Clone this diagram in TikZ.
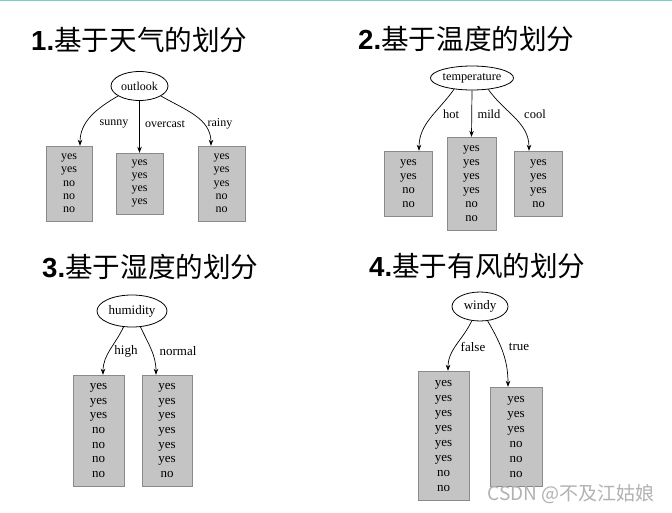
\documentclass[tikz,border=0pt]{standalone}
\usepackage{fontspec}
\setmainfont{Liberation Serif}
\newfontfamily\cjk{Noto Sans CJK SC}
\newfontfamily\numfont{Liberation Sans}
\usepackage{tikz}
\usetikzlibrary{arrows,arrows.meta,shapes,positioning}
\definecolor{boxgray}{HTML}{C4C4C4}
\definecolor{boxline}{HTML}{8A8A8A}
\definecolor{topline}{HTML}{72D0D0}

\begin{document}
\begin{tikzpicture}[x=1pt,y=1pt,
  title/.style={anchor=west, inner sep=0pt, font=\fontsize{27.6}{28}\selectfont},
  attr/.style={draw, ellipse, inner sep=0pt, line width=0.8pt},
  leaf/.style={draw=boxline, fill=boxgray, inner sep=0pt, align=center},
  branch/.style={inner sep=0pt},
  edge/.style={-{Stealth[length=6pt,width=4.5pt]}, line width=0.7pt}]
  \useasboundingbox (0,0) rectangle (672,-513);
  \fill[white] (0,0) rectangle (672,-513);
  \draw[topline, line width=1.5pt] (0,-0.5) -- (672,-0.5);

  % 1. outlook
  \node[title] (t1) at (31,-40) {{\numfont\bfseries 1.}\cjk 基于天气的划分};
  \node[attr, minimum width=57, minimum height=29, font=\fontsize{12}{13}\selectfont] (outlook) at (139.5,-86) {outlook};
  \node[leaf, minimum width=46, minimum height=75, font=\fontsize{12}{13.3}\selectfont] (sunny) at (69,-183.5) {yes\\yes\\no\\no\\no};
  \node[leaf, minimum width=47, minimum height=61, font=\fontsize{12}{13.3}\selectfont] (overcast) at (139.5,-183.5) {yes\\yes\\yes\\yes};
  \node[leaf, minimum width=47, minimum height=75, font=\fontsize{12}{13.3}\selectfont] (rainy) at (221.5,-183.5) {yes\\yes\\yes\\no\\no};
  \draw[edge] (outlook.-155) to[out=-150, in=90] ([xshift=11pt]sunny.north);
  \draw[edge] (outlook.south) -- (overcast.north);
  \draw[edge] (outlook.-25) to[out=-30, in=90] ([xshift=-10.5pt]rainy.north);
  \node[branch, font=\fontsize{12}{13}\selectfont] (l-sunny) at (114,-124) {sunny};
  \node[branch, font=\fontsize{12}{13}\selectfont] (l-overcast) at (165,-124) {overcast};
  \node[branch, font=\fontsize{12}{13}\selectfont] (l-rainy) at (220,-124) {rainy};

  % 2. temperature
  \node[title] (t2) at (358,-39) {{\numfont\bfseries 2.}\cjk 基于温度的划分};
  \node[attr, minimum width=80, minimum height=24, font=\fontsize{12.3}{13}\selectfont] (temperature) at (472,-78) {temperature};
  \node[leaf, minimum width=48, minimum height=65, font=\fontsize{12.5}{14}\selectfont] (hot) at (408.5,-183.5) {yes\\yes\\no\\no};
  \node[leaf, minimum width=49, minimum height=93, font=\fontsize{12.5}{14}\selectfont] (mild) at (471.5,-183.5) {yes\\yes\\yes\\yes\\no\\no};
  \node[leaf, minimum width=48, minimum height=65, font=\fontsize{12.5}{14}\selectfont] (cool) at (538.5,-183.5) {yes\\yes\\yes\\no};
  \draw[edge] (temperature.-148) to[out=-125, in=90] ([xshift=10.5pt]hot.north);
  \draw[edge] (temperature.south) -- (mild.north);
  \draw[edge] (temperature.-35) to[out=-55, in=90] ([xshift=-9.5pt]cool.north);
  \node[branch, font=\fontsize{12.5}{13}\selectfont] (l-hot) at (451,-114) {hot};
  \node[branch, font=\fontsize{12.5}{13}\selectfont] (l-mild) at (489,-114) {mild};
  \node[branch, font=\fontsize{12.5}{13}\selectfont] (l-cool) at (535,-114) {cool};

  % 3. humidity
  \node[title] (t3) at (42,-267) {{\numfont\bfseries 3.}\cjk 基于湿度的划分};
  \node[attr, minimum width=70, minimum height=32, font=\fontsize{13}{13}\selectfont] (humidity) at (132,-311) {humidity};
  \node[leaf, minimum width=51, minimum height=111, font=\fontsize{13}{14.7}\selectfont] (high) at (98.5,-430.5) {yes\\yes\\yes\\no\\no\\no\\no};
  \node[leaf, minimum width=50, minimum height=111, font=\fontsize{13}{14.7}\selectfont] (normal) at (167,-430.5) {yes\\yes\\yes\\yes\\yes\\yes\\no};
  \draw[edge] (humidity.-118) to[out=-115, in=90] ([xshift=4.5pt]high.north);
  \draw[edge] (humidity.-62) to[out=-65, in=90] ([xshift=-11pt]normal.north);
  \node[branch, font=\fontsize{13}{13}\selectfont] (l-high) at (126,-351) {high};
  \node[branch, font=\fontsize{13}{13}\selectfont] (l-normal) at (178,-351) {normal};

  % 4. windy
  \node[title] (t4) at (369,-266) {{\numfont\bfseries 4.}\cjk 基于有风的划分};
  \node[attr, minimum width=56, minimum height=29, font=\fontsize{13}{13}\selectfont] (windy) at (480,-306.5) {windy};
  \node[leaf, minimum width=51, minimum height=129, font=\fontsize{13}{15}\selectfont] (false) at (443.5,-435.5) {yes\\yes\\yes\\yes\\yes\\yes\\no\\no};
  \node[leaf, minimum width=52, minimum height=99, font=\fontsize{13}{15}\selectfont] (true) at (516,-436.5) {yes\\yes\\yes\\no\\no\\no};
  \draw[edge] (windy.-120) to[out=-115, in=90] ([xshift=4.5pt]false.north);
  \draw[edge] (windy.-62) to[out=-60, in=90] ([xshift=-8pt]true.north);
  \node[branch, font=\fontsize{13}{13}\selectfont] (l-false) at (473,-347) {false};
  \node[branch, font=\fontsize{13}{13}\selectfont] (l-true) at (519,-347) {true};

  % watermark
  \node[text=gray!60, font=\cjk\fontsize{19}{20}\selectfont] (mark) at (571,-494) {CSDN @不及江姑娘};
\end{tikzpicture}
\end{document}
